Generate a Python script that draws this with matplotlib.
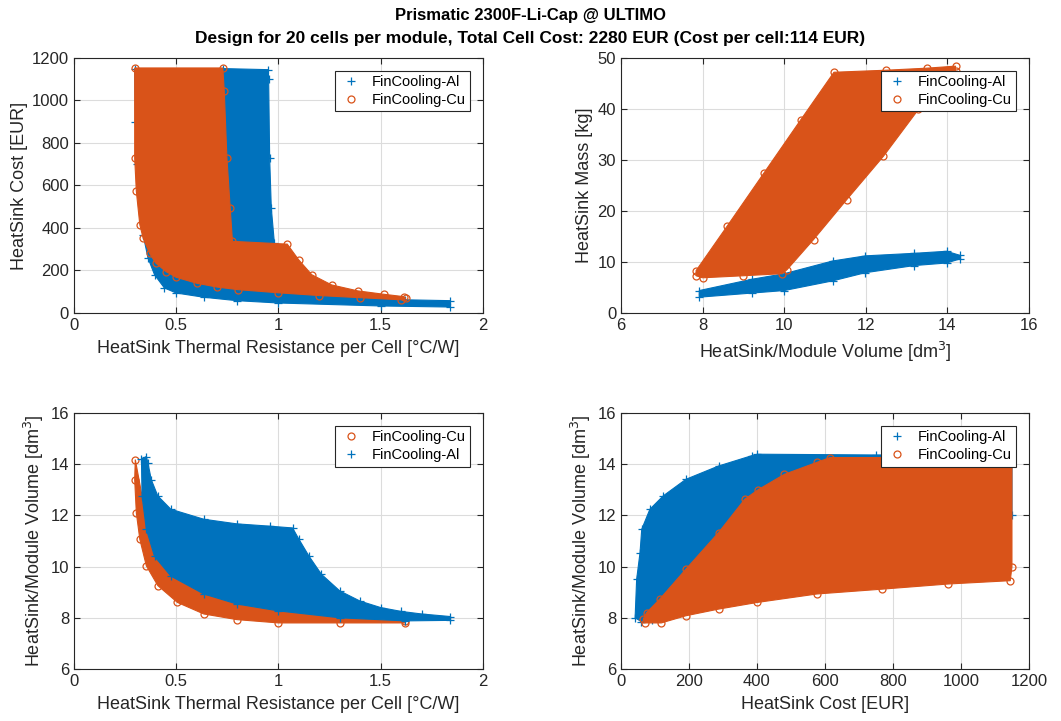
import matplotlib
matplotlib.use('Agg')
from matplotlib import pyplot as plt

plt.rcParams['font.family'] = ['Liberation Sans', 'DejaVu Sans']

BLUE = '#0072BD'
ORANGE = '#D95319'
TXT = '#262626'

# --- top left: cost vs thermal resistance (outline of each point cloud)
rth_al_1 = [0.297, 0.30, 0.31, 0.338, 0.362, 0.394, 0.442, 0.5, 0.635, 0.796, 1.0, 1.5, 1.84,
            1.84, 1.62, 1.4, 1.2, 1.0, 0.98, 0.965, 0.957, 0.952, 0.95, 0.73]
cost_al_1 = [1150, 900, 700, 369, 259, 180, 118, 94, 74, 58, 47, 33, 28,
             58, 62, 75, 90, 200, 330, 494, 729, 1100, 1145, 1150]
rth_cu_1 = [0.297, 0.728, 0.735, 0.748, 0.764, 0.775, 1.043, 1.099, 1.163, 1.26, 1.388, 1.516, 1.612, 1.623,
            1.6, 1.4, 1.2, 1.0, 0.8, 0.7, 0.6, 0.5, 0.45, 0.40, 0.37, 0.338, 0.322, 0.305, 0.297]
cost_cu_1 = [1153, 1153, 1043, 729, 494, 337, 324, 250, 180, 132, 104, 88, 77, 69,
             62, 72, 82, 95, 110, 122, 140, 168, 195, 235, 280, 353, 416, 573, 729]

# --- top right: mass vs volume
vol_al_2 = [7.92, 9.2, 10.0, 11.19, 11.99, 13.19, 13.98, 14.31,
            14.31, 13.98, 13.19, 11.99, 11.19, 10.0, 9.2, 7.92]
mass_al_2 = [4.4, 6.6, 7.7, 10.2, 11.2, 11.7, 12.1, 11.3,
             10.6, 9.8, 9.3, 7.9, 6.3, 4.4, 3.9, 3.1]
vol_cu_2 = [7.84, 8.6, 9.5, 10.4, 11.22, 12.5, 13.5, 14.2,
            14.2, 13.58, 13.29, 12.43, 11.53, 10.72, 10.07, 9.95, 9.0, 8.0, 7.84]
mass_cu_2 = [8.3, 17.0, 27.4, 37.8, 47.2, 47.6, 48.0, 48.4,
             47.5, 43.8, 39.9, 30.7, 22.2, 14.4, 8.5, 7.7, 7.3, 6.9, 7.3]

# --- bottom left: volume vs thermal resistance
rth_cu_3 = [0.30, 0.333, 0.354, 0.394, 0.474, 0.635, 0.796, 1.0, 1.3, 1.62,
            1.62, 1.3, 1.0, 0.796, 0.635, 0.506, 0.41, 0.354, 0.322, 0.305, 0.297]
vol_cu_3 = [14.18, 12.76, 11.46, 10.4, 9.63, 8.93, 8.54, 8.27, 8.0, 7.88,
            7.8, 7.8, 7.8, 7.93, 8.15, 8.6, 9.26, 10.03, 11.07, 12.1, 13.4]
rth_al_3 = [0.33, 0.354, 0.362, 0.378, 0.41, 0.474, 0.635, 0.796, 0.957, 1.069, 1.1, 1.15, 1.21,
            1.3, 1.4, 1.5, 1.6, 1.7, 1.84, 1.84, 1.62, 1.3, 1.0, 0.796, 0.635, 0.474, 0.394, 0.354, 0.333]
vol_al_3 = [14.2, 14.3, 14.04, 13.4, 12.76, 12.24, 11.85, 11.67, 11.58, 11.51, 11.07, 10.4, 9.7,
            9.05, 8.65, 8.4, 8.25, 8.15, 8.05, 7.9, 7.88, 8.0, 8.27, 8.54, 8.93, 9.63, 10.4, 11.46, 12.76]

# --- bottom right: volume vs cost
cost_al_4 = [41.5, 46, 56, 61, 85, 124, 191, 287, 384, 401, 750, 1150,
             1150, 400, 200, 90, 60]
vol_al_4 = [8.0, 9.5, 10.55, 11.46, 12.24, 12.76, 13.41, 13.93, 14.33, 14.39, 14.36, 14.35,
            12.0, 11.0, 9.0, 7.9, 7.85]
cost_cu_4 = [65.5, 75, 114, 191, 287, 364, 403, 480, 576, 615, 900, 1150,
             1150, 1145, 962, 769, 576, 401, 287, 191, 118.5, 70]
vol_cu_4 = [7.95, 8.2, 8.73, 9.9, 11.33, 12.63, 13.0, 13.6, 14.07, 14.26, 14.26, 14.26,
            10.0, 9.45, 9.32, 9.12, 8.93, 8.6, 8.34, 8.08, 7.8, 7.8]

RTH_LABEL = 'HeatSink Thermal Resistance per Cell [°C/W]'
VOL_LABEL = 'HeatSink/Module Volume [dm$^3$]'


def cloud(ax, x, y, color, marker, label, z):
    ax.fill(x, y, color=color, lw=0.8, ec=color, zorder=z)
    if marker == '+':
        ax.plot(x, y, ls='none', marker='+', ms=6, mew=0.9, color=color, label=label, zorder=z + 0.1)
    else:
        ax.plot(x, y, ls='none', marker='o', ms=5, mew=0.9, mfc='none', mec=color, label=label,
                zorder=z + 0.1)


def style(ax, xlim, ylim, xticks, yticks, xlabel, ylabel, xtl=None):
    ax.set_xlim(xlim)
    ax.set_ylim(ylim)
    ax.set_xticks(xticks)
    ax.set_yticks(yticks)
    if xtl is not None:
        ax.set_xticklabels(xtl)
    ax.grid(True, color='#dcdcdc', lw=0.8)
    ax.set_axisbelow(True)
    ax.tick_params(direction='in', top=True, right=True, labelsize=12, colors=TXT, length=4)
    for s in ax.spines.values():
        s.set_color(TXT)
        s.set_linewidth(0.8)
        s.set_zorder(10)
    ax.set_xlabel(xlabel, fontsize=13, color=TXT, labelpad=5)
    ax.set_ylabel(ylabel, fontsize=13, color=TXT, labelpad=3)
    leg = ax.legend(loc='upper right', fontsize=10.5, frameon=True, fancybox=False,
                    edgecolor=TXT, framealpha=1, borderaxespad=0.9, handletextpad=0.6,
                    handlelength=1.6, borderpad=0.3, labelspacing=0.25)
    leg.get_frame().set_linewidth(0.8)
    leg.set_zorder(20)


fig = plt.figure(figsize=(10.61, 7.21), dpi=100)
ax1 = fig.add_axes([0.0697, 0.5659, 0.3855, 0.3537])
ax2 = fig.add_axes([0.5853, 0.5659, 0.3845, 0.3537])
ax3 = fig.add_axes([0.0697, 0.0721, 0.3855, 0.3551])
ax4 = fig.add_axes([0.5853, 0.0721, 0.3845, 0.3551])

rth_ticks = [0, 0.5, 1, 1.5, 2]
rth_tl = ['0', '0.5', '1', '1.5', '2']

cloud(ax1, rth_al_1, cost_al_1, BLUE, '+', 'FinCooling-Al', 2)
cloud(ax1, rth_cu_1, cost_cu_1, ORANGE, 'o', 'FinCooling-Cu', 3)
style(ax1, (0, 2), (0, 1200), rth_ticks, range(0, 1201, 200),
      RTH_LABEL, 'HeatSink Cost [EUR]', rth_tl)

cloud(ax2, vol_al_2, mass_al_2, BLUE, '+', 'FinCooling-Al', 2)
cloud(ax2, vol_cu_2, mass_cu_2, ORANGE, 'o', 'FinCooling-Cu', 3)
style(ax2, (6, 16), (0, 50), range(6, 17, 2), range(0, 51, 10),
      VOL_LABEL, 'HeatSink Mass [kg]')

cloud(ax3, rth_cu_3, vol_cu_3, ORANGE, 'o', 'FinCooling-Cu', 2)
cloud(ax3, rth_al_3, vol_al_3, BLUE, '+', 'FinCooling-Al', 3)
style(ax3, (0, 2), (6, 16), rth_ticks, range(6, 17, 2),
      RTH_LABEL, VOL_LABEL, rth_tl)

cloud(ax4, cost_al_4, vol_al_4, BLUE, '+', 'FinCooling-Al', 2)
cloud(ax4, cost_cu_4, vol_cu_4, ORANGE, 'o', 'FinCooling-Cu', 3)
style(ax4, (0, 1200), (6, 16), range(0, 1201, 200), range(6, 17, 2),
      'HeatSink Cost [EUR]', VOL_LABEL)

fig.text(0.5, 0.978, 'Prismatic 2300F-Li-Cap @ ULTIMO', ha='center', va='center',
         fontsize=12, fontweight='bold', color='black')
fig.text(0.5, 0.947, 'Design for 20 cells per module, Total Cell Cost: 2280 EUR (Cost per cell:114 EUR)',
         ha='center', va='center', fontsize=12.5, fontweight='bold', color='black')

fig.savefig('out.png', dpi=100)
